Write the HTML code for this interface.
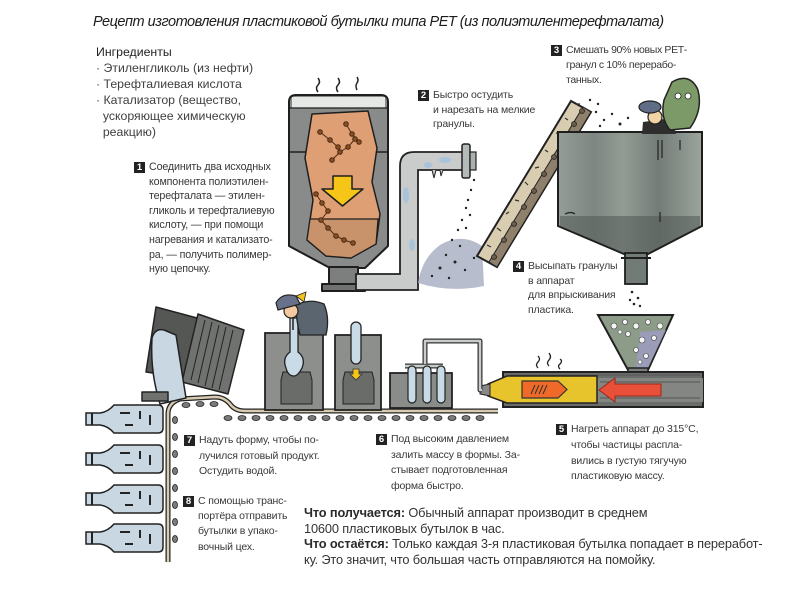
<!DOCTYPE html>
<html><head><meta charset="utf-8">
<style>
html,body{margin:0;padding:0;background:#fff;}
body{width:800px;height:600px;position:relative;overflow:hidden;font-family:"Liberation Sans","DejaVu Sans",sans-serif;color:#3a3a3a;}
.t{position:absolute;white-space:nowrap;}
.title{left:93px;top:13px;font-size:14.5px;font-style:italic;color:#1c1c1c;letter-spacing:-0.48px;line-height:18px;}
.ing{left:96px;top:44px;font-size:12.3px;line-height:16px;color:#404040;}
.ing b{font-weight:normal;color:#222;}
.st{font-size:10.5px;letter-spacing:-0.15px;color:#383838;}
.n{position:absolute;left:-15px;width:11px;height:11px;background:#222;color:#fff;font-weight:bold;font-size:9.5px;line-height:11px;text-align:center;letter-spacing:0;}
.bt{left:304px;top:505px;font-size:12.8px;line-height:15.6px;color:#333;letter-spacing:-0.15px;}
.bt b{font-weight:bold;color:#2a2a2a;}
</style></head>
<body>
<svg width="800" height="600" viewBox="0 0 800 600" style="position:absolute;left:0;top:0">
<defs>
<linearGradient id="tank" x1="0" x2="1" y1="0" y2="0">
<stop offset="0" stop-color="#959d98"/>
<stop offset="0.25" stop-color="#7e8681"/>
<stop offset="0.45" stop-color="#939b95"/>
<stop offset="0.7" stop-color="#747c77"/>
<stop offset="1" stop-color="#9ca49e"/>
</linearGradient>
</defs>

<!-- steam over reactor -->
<g fill="none" stroke="#222" stroke-width="1.5">
<path d="M318,92 q-3,-4 0,-7 q3,-3 0,-7"/>
<path d="M338,92 q-3,-4 0,-7 q3,-3 0,-7"/>
<path d="M357,90 q-2,-4 0,-7 q2,-3 0,-6"/>
</g>

<!-- reactor -->
<g stroke="#1e1e1e" stroke-width="2" stroke-linejoin="round">
<path d="M289,102 Q289,95 296,95 L381,95 Q388,95 388,102 L388,246 L365,268 L330,268 L289,246 Z" fill="#888b89"/>
<path d="M292,97 L385,97 L385,108 L292,108 Z" fill="#e6e8e6" stroke="none"/>
<path d="M289,108 L388,108" stroke-width="1.2"/>
<path d="M289,152 L311,152 M375,152 L388,152" stroke-width="1.5"/>
<path d="M312,114 L368,111 L377,148 L372,182 L380,214 L376,244 L351,258 L326,256 L307,240 L313,200 L305,158 Z" fill="#de9f75" stroke-width="1.5"/>
<path d="M310,219 L378,219 L376,244 L351,258 L326,256 L307,240 Z" fill="#c8926a" stroke-width="1.2"/>
<path d="M333,176 L352,176 L352,189 L363,189 L342.5,206 L322,189 L333,189 Z" fill="#f5c518" stroke-width="1.5"/>
<path d="M329,267 L358,267 L358,285 L329,285 Z" fill="#7c7f7d"/>
<path d="M322,284 L365,284 L365,291 L322,291 Z" fill="#6f7270"/>
</g>
<!-- molecules -->
<g stroke="#4a2a14" stroke-width="1" fill="#8b4f22">
<path d="M320,132 L330,140 L338,147 M346,124 L352,134 L359,142 M332,160 L340,152 L348,147 L355,139 M316,194 L322,203 L328,211 L321,220 L328,228 L336,236 L344,240 L353,243" fill="none"/>
<circle cx="320" cy="132" r="2.3"/><circle cx="330" cy="140" r="2.3"/><circle cx="338" cy="147" r="2.3"/>
<circle cx="346" cy="124" r="2.3"/><circle cx="352" cy="134" r="2.3"/><circle cx="359" cy="142" r="2.3"/>
<circle cx="332" cy="160" r="2.3"/><circle cx="340" cy="152" r="2.3"/><circle cx="348" cy="147" r="2.3"/><circle cx="355" cy="139" r="2.3"/>
<circle cx="316" cy="194" r="2.3"/><circle cx="322" cy="203" r="2.3"/><circle cx="328" cy="211" r="2.3"/><circle cx="321" cy="220" r="2.3"/><circle cx="328" cy="228" r="2.3"/><circle cx="336" cy="236" r="2.3"/><circle cx="344" cy="240" r="2.3"/><circle cx="353" cy="243" r="2.3"/>
</g>

<!-- pipe -->
<path d="M356,274 L400,274 L400,166 Q400,152 414,152 L463,152 L463,170 L418,170 L418,290 L356,290 Z" fill="#c9cccb" stroke="#222" stroke-width="1.8"/>
<g fill="#a9c3da"><ellipse cx="406" cy="195" rx="3" ry="8"/><ellipse cx="412" cy="245" rx="3" ry="6"/><ellipse cx="445" cy="160" rx="6" ry="3"/><ellipse cx="428" cy="165" rx="4" ry="3"/></g>
<path d="M432,170 l2,8 l2,-8 M440,170 l1,6 l2,-6" fill="#c9cccb" stroke="#222" stroke-width="1"/>
<rect x="462" y="144" width="8" height="34" rx="2" fill="#b5b9b8" stroke="#222" stroke-width="1.5"/>
<rect x="470" y="152" width="6" height="18" fill="#aab0b0" stroke="#222" stroke-width="1.2"/>

<!-- granule spray and pile -->
<path d="M418,283 Q422,258 440,245 Q462,232 482,246 L484,286 Q450,293 418,283 Z" fill="#aab1c3" opacity="0.85"/>
<g fill="#222">
<circle cx="474" cy="180" r="1.2"/><circle cx="471" cy="190" r="1.2"/><circle cx="468" cy="200" r="1.2"/><circle cx="466" cy="208" r="1.2"/><circle cx="470" cy="215" r="1.2"/><circle cx="462" cy="220" r="1.2"/><circle cx="458" cy="230" r="1.2"/><circle cx="466" cy="228" r="1.2"/><circle cx="452" cy="240" r="1.2"/><circle cx="460" cy="246" r="1.2"/><circle cx="446" cy="255" r="1.2"/><circle cx="440" cy="268" r="1.5"/><circle cx="455" cy="262" r="1.5"/><circle cx="465" cy="270" r="1.2"/><circle cx="432" cy="276" r="1.2"/><circle cx="449" cy="278" r="1.2"/><circle cx="474" cy="258" r="1.2"/>
</g>

<!-- slanted conveyor -->
<polygon points="477,256 571,101 591,112 497,267" fill="#d9cdb1" stroke="#222" stroke-width="2"/>
<polygon points="489,262 583,107 591,112 497,267" fill="#8e806b" stroke="#222" stroke-width="1"/>
<g fill="#6a5d4c" stroke="#222" stroke-width="0.8">
<circle cx="494" cy="257" r="2.5"/><circle cx="504" cy="240" r="2.5"/><circle cx="514" cy="224" r="2.5"/><circle cx="524" cy="207" r="2.5"/><circle cx="534" cy="191" r="2.5"/><circle cx="544" cy="174" r="2.5"/><circle cx="554" cy="157" r="2.5"/><circle cx="564" cy="141" r="2.5"/><circle cx="574" cy="124" r="2.5"/><circle cx="582" cy="111" r="2.5"/>
</g>
<g fill="none" stroke="#333" stroke-width="1.2">
<path d="M487,245 l4,2 M497,228 l4,3 M506,214 l3,-2 M515,200 l4,1 M525,182 l3,3 M535,168 l4,-1 M545,150 l3,2 M556,133 l4,1 M565,118 l3,2 M576,104 l4,0"/>
</g>
<g fill="#222"><circle cx="596" cy="112" r="1.2"/><circle cx="604" cy="120" r="1.2"/><circle cx="612" cy="114" r="1.2"/><circle cx="620" cy="124" r="1.5"/><circle cx="600" cy="126" r="1.2"/><circle cx="628" cy="118" r="1.2"/><circle cx="590" cy="100" r="1.2"/><circle cx="598" cy="104" r="1.2"/></g>

<!-- tank -->
<path d="M558,132 L702,132 L702,226 L648,254 L624,254 L558,226 Z" fill="url(#tank)" stroke="#1e1e1e" stroke-width="2"/>
<path d="M560,216 L700,216 L700,226 L648,253 L624,253 L560,226 Z" fill="#525a55" opacity="0.55"/>
<g stroke="#222" stroke-width="1.2" fill="none"><path d="M658,140 L658,160 M662,140 L662,158 M680,140 L680,150 M660,212 L660,222 M565,214 q6,-3 10,0"/></g>
<rect x="625" y="253" width="22" height="31" fill="#737b76" stroke="#1e1e1e" stroke-width="1.8"/>
<line x1="621" y1="258" x2="651" y2="258" stroke="#1e1e1e" stroke-width="2"/>
<g fill="#222"><circle cx="632" cy="292" r="1.3"/><circle cx="638" cy="298" r="1.3"/><circle cx="634" cy="304" r="1.3"/><circle cx="640" cy="306" r="1.2"/><circle cx="630" cy="300" r="1.2"/></g>

<!-- workers on tank -->
<path d="M643,122 L672,118 L676,134 L642,134 Z" fill="#2e2e2e"/>
<circle cx="655" cy="117" r="7" fill="#f2d3a4" stroke="#222" stroke-width="1.2"/>
<ellipse cx="650" cy="107" rx="11" ry="6" fill="#5f6e86" stroke="#222" stroke-width="1.2"/>
<path d="M672,82 Q690,72 698,90 Q703,110 690,128 L670,130 Q660,118 664,100 Z" fill="#7c9968" stroke="#222" stroke-width="1.5"/>
<circle cx="678" cy="96" r="3" fill="#fff" stroke="#222" stroke-width="0.8"/><circle cx="688" cy="96" r="3" fill="#fff" stroke="#222" stroke-width="0.8"/>

<!-- injection funnel -->
<path d="M598,315 L673,315 L648,370 L628,370 Z" fill="#8c9c89" stroke="#222" stroke-width="2"/>
<path d="M640,332 L666,330 L648,368 L636,368 Z" fill="#9e9cc4" opacity="0.8"/>
<g fill="#f4f4f4" stroke="#444" stroke-width="0.6">
<circle cx="614" cy="326" r="3"/><circle cx="625" cy="322" r="2.5"/><circle cx="636" cy="326" r="3"/><circle cx="648" cy="322" r="2.5"/><circle cx="660" cy="326" r="3"/><circle cx="628" cy="334" r="2.5"/><circle cx="642" cy="340" r="3"/><circle cx="654" cy="338" r="2.5"/><circle cx="636" cy="350" r="2.5"/><circle cx="646" cy="356" r="2.5"/><circle cx="640" cy="362" r="2"/><circle cx="620" cy="332" r="2"/>
</g>
<rect x="628" y="368" width="20" height="6" fill="#7b807c" stroke="#222" stroke-width="1.5"/>

<!-- heat squiggles -->
<g fill="none" stroke="#222" stroke-width="1.3">
<path d="M538,368 q-3,-3 0,-6 q3,-3 0,-6"/><path d="M549,366 q-3,-3 0,-6 q3,-3 0,-7"/><path d="M560,369 q-3,-3 0,-5 q3,-3 0,-5"/>
</g>

<!-- barrel -->
<rect x="503" y="372" width="200" height="35" fill="#6b6d6b" stroke="#222" stroke-width="2"/>
<rect x="597" y="378" width="106" height="24" fill="#848684"/>
<g stroke="#555" stroke-width="1"><line x1="600" y1="382" x2="700" y2="382"/><line x1="600" y1="398" x2="700" y2="398"/><line x1="510" y1="375" x2="700" y2="375"/></g>
<path d="M488,384 L507,376 L597,376 L597,403 L507,403 L488,396 Z" fill="#e8c42c" stroke="#222" stroke-width="1.5"/>
<path d="M480,386 L490,384 L490,396 L480,394 Z" fill="#888" stroke="#222" stroke-width="1"/>
<path d="M522,381 L558,381 L567,389.5 L558,398 L522,398 Z" fill="#ef6a28" stroke="#333" stroke-width="1.2"/>
<g stroke="#333" stroke-width="1"><line x1="531" y1="394" x2="535" y2="385"/><line x1="535" y1="394" x2="539" y2="385"/><line x1="539" y1="394" x2="543" y2="385"/><line x1="543" y1="394" x2="547" y2="385"/></g>
<path d="M615,384 L661,384 L661,396 L615,396 L615,402 L599,390 L615,378 Z" fill="#e8503a" stroke="#9a2a1a" stroke-width="1"/>

<!-- thin pipe to moulds -->
<path d="M482,390 L480,390 L480,341 L425,341 L425,364 M405,366 L443,366 M412,366 L412,372 M427,366 L427,372 M441,366 L441,372" fill="none" stroke="#333" stroke-width="5" stroke-linejoin="round"/>
<path d="M482,390 L480,390 L480,341 L425,341 L425,364 M405,366 L443,366" fill="none" stroke="#c9cccb" stroke-width="2.5" stroke-linejoin="round"/>
<rect x="390" y="373" width="62" height="35" fill="#8a8c8a" stroke="#222" stroke-width="1.8"/>
<g fill="#c8dbe6" stroke="#222" stroke-width="1.2">
<rect x="408" y="366" width="8" height="37" rx="4"/><rect x="423" y="366" width="8" height="37" rx="4"/><rect x="437" y="366" width="8" height="37" rx="4"/>
</g>

<!-- belt -->
<path d="M168,562 L168,414 Q168,403 180,399 L215,397 Q224,397 230,404 Q235,411 245,411 L498,411" fill="none" stroke="#222" stroke-width="5"/>
<path d="M168,562 L168,414 Q168,403 180,399 L215,397 Q224,397 230,404 Q235,411 245,411 L498,411" fill="none" stroke="#d8ccb0" stroke-width="2.5"/>
<g fill="#7a7c7a" stroke="#222" stroke-width="0.8">
<ellipse cx="228" cy="418" rx="4" ry="2.5"/><ellipse cx="242" cy="418" rx="4" ry="2.5"/><ellipse cx="256" cy="418" rx="4" ry="2.5"/><ellipse cx="270" cy="418" rx="4" ry="2.5"/><ellipse cx="284" cy="418" rx="4" ry="2.5"/><ellipse cx="298" cy="418" rx="4" ry="2.5"/><ellipse cx="312" cy="418" rx="4" ry="2.5"/><ellipse cx="326" cy="418" rx="4" ry="2.5"/><ellipse cx="340" cy="418" rx="4" ry="2.5"/><ellipse cx="354" cy="418" rx="4" ry="2.5"/><ellipse cx="368" cy="418" rx="4" ry="2.5"/><ellipse cx="382" cy="418" rx="4" ry="2.5"/><ellipse cx="396" cy="418" rx="4" ry="2.5"/><ellipse cx="410" cy="418" rx="4" ry="2.5"/><ellipse cx="424" cy="418" rx="4" ry="2.5"/><ellipse cx="438" cy="418" rx="4" ry="2.5"/><ellipse cx="452" cy="418" rx="4" ry="2.5"/><ellipse cx="466" cy="418" rx="4" ry="2.5"/><ellipse cx="480" cy="418" rx="4" ry="2.5"/>
<ellipse cx="186" cy="405" rx="4" ry="2.5"/><ellipse cx="200" cy="404" rx="4" ry="2.5"/><ellipse cx="214" cy="404" rx="4" ry="2.5"/>
<ellipse cx="175" cy="420" rx="2.5" ry="3.5"/><ellipse cx="175" cy="437" rx="2.5" ry="3.5"/><ellipse cx="175" cy="454" rx="2.5" ry="3.5"/><ellipse cx="175" cy="471" rx="2.5" ry="3.5"/><ellipse cx="175" cy="488" rx="2.5" ry="3.5"/><ellipse cx="175" cy="505" rx="2.5" ry="3.5"/><ellipse cx="175" cy="522" rx="2.5" ry="3.5"/><ellipse cx="175" cy="539" rx="2.5" ry="3.5"/>
</g>

<!-- blow moulds -->
<rect x="265" y="333" width="58" height="77" fill="#8d8f8d" stroke="#222" stroke-width="1.8"/>
<path d="M283,372 L310,372 L312,380 L312,404 L281,404 L281,380 Z" fill="#6a6c6a" stroke="#222" stroke-width="1"/>
<path d="M290,318 L298,318 L298,352 Q306,358 302,368 Q298,376 294,376 Q288,376 286,368 Q282,358 290,352 Z" fill="#c8dbe6" stroke="#222" stroke-width="1.3"/>
<rect x="335" y="335" width="46" height="75" fill="#8d8f8d" stroke="#222" stroke-width="1.8"/>
<path d="M345,372 L372,372 L374,380 L374,404 L343,404 L343,380 Z" fill="#6a6c6a" stroke="#222" stroke-width="1"/>
<rect x="351" y="322" width="10" height="42" rx="5" fill="#c8dbe6" stroke="#222" stroke-width="1.3"/>
<path d="M353,369 L359,369 L359,374 L362,374 L356,380 L350,374 L353,374 Z" fill="#f5c518" stroke="#333" stroke-width="0.8"/>
<!-- worker at mould -->
<path d="M296,305 Q310,298 324,304 Q330,318 326,335 L300,335 Q296,320 296,305 Z" fill="#5b6570" stroke="#222" stroke-width="1.3"/>
<circle cx="291" cy="311" r="7" fill="#f2c9a0" stroke="#222" stroke-width="1.2"/>
<path d="M276,303 Q282,292 296,296 L300,304 L278,310 Z" fill="#67718a" stroke="#222" stroke-width="1.2"/>
<path d="M296,296 L306,292 L304,302 Z" fill="#f2c21e" stroke="#222" stroke-width="0.8"/>
<line x1="293" y1="318" x2="293" y2="330" stroke="#222" stroke-width="1.5"/>

<!-- machine at left -->
<g stroke="#222" stroke-width="1.5" stroke-linejoin="round">
<polygon points="156,307 197,318 188,378 146,372" fill="#555755"/>
<polygon points="198,314 244,330 228,394 182,382" fill="#707270"/>
<path d="M205,320 L191,380 M212,322 L198,383 M219,325 L205,386 M226,327 L212,388 M233,330 L219,390" fill="none" stroke-width="1"/>
<path d="M152,338 Q155,328 164,330 L176,335 L186,398 L160,404 Q150,372 152,338 Z" fill="#c8d7e2"/>
<rect x="142" y="392" width="26" height="9" fill="#6f716f"/>
</g>

<!-- bottles -->
<g stroke="#222" stroke-width="1.5" fill="#c9d7e2">
<g transform="translate(0,419)"><path d="M86,-6 L100,-6 Q108,-7 114,-14 L158,-14 Q163,-14 163,-9 L163,9 Q163,14 158,14 L114,14 Q108,7 100,6 L86,6 Z"/><path d="M120,-6 l10,0 M140,-8 l0,8 M150,-4 l0,10 M125,6 l8,0 M92,-6 l0,12" fill="none" stroke-width="2"/></g>
<g transform="translate(0,459)"><path d="M86,-6 L100,-6 Q108,-7 114,-14 L158,-14 Q163,-14 163,-9 L163,9 Q163,14 158,14 L114,14 Q108,7 100,6 L86,6 Z"/><path d="M120,-6 l10,0 M140,-8 l0,8 M150,-4 l0,10 M125,6 l8,0 M92,-6 l0,12" fill="none" stroke-width="2"/></g>
<g transform="translate(0,499)"><path d="M86,-6 L100,-6 Q108,-7 114,-14 L158,-14 Q163,-14 163,-9 L163,9 Q163,14 158,14 L114,14 Q108,7 100,6 L86,6 Z"/><path d="M120,-6 l10,0 M140,-8 l0,8 M150,-4 l0,10 M125,6 l8,0 M92,-6 l0,12" fill="none" stroke-width="2"/></g>
<g transform="translate(0,538)"><path d="M86,-6 L100,-6 Q108,-7 114,-14 L158,-14 Q163,-14 163,-9 L163,9 Q163,14 158,14 L114,14 Q108,7 100,6 L86,6 Z"/><path d="M120,-6 l10,0 M140,-8 l0,8 M150,-4 l0,10 M125,6 l8,0 M92,-6 l0,12" fill="none" stroke-width="2"/></g>
</g>
</svg>

<div class="t title">Рецепт изготовления пластиковой бутылки типа PET (из полиэтилентерефталата)</div>

<div class="t ing"><b>Ингредиенты</b><br>· Этиленгликоль (из нефти)<br>· Терефталиевая кислота<br>· Катализатор (вещество,<br>&nbsp;&nbsp;ускоряющее химическую<br>&nbsp;&nbsp;реакцию)</div>

<div class="t st" style="left:149px;top:160px;line-height:14.6px;font-size:10.7px;"><span class="n" style="top:1.8px;">1</span>Соединить два исходных<br>компонента полиэтилен-<br>терефталата — этилен-<br>гликоль и терефталиевую<br>кислоту, — при помощи<br>нагревания и катализато-<br>ра, — получить полимер-<br>ную цепочку.</div>

<div class="t st" style="left:433px;top:88px;line-height:14.7px;"><span class="n" style="top:1.8px;">2</span>Быстро остудить<br>и нарезать на мелкие<br>гранулы.</div>

<div class="t st" style="left:566px;top:43px;line-height:15px;letter-spacing:-0.35px;"><span class="n" style="top:2px;">3</span>Смешать 90% новых РЕТ-<br>гранул с 10% перерабо-<br>танных.</div>

<div class="t st" style="left:528px;top:259px;line-height:14.7px;"><span class="n" style="top:1.8px;">4</span>Высыпать гранулы<br>в аппарат<br>для впрыскивания<br>пластика.</div>

<div class="t st" style="left:571px;top:422px;line-height:15.8px;"><span class="n" style="top:2.4px;">5</span>Нагреть аппарат до 315°С,<br>чтобы частицы распла-<br>вились в густую тягучую<br>пластиковую массу.</div>

<div class="t st" style="left:391px;top:432px;line-height:15.6px;"><span class="n" style="top:2.3px;">6</span>Под высоким давлением<br>залить массу в формы. За-<br>стывает подготовленная<br>форма быстро.</div>

<div class="t st" style="left:199px;top:433px;line-height:15.5px;"><span class="n" style="top:2.2px;">7</span>Надуть форму, чтобы по-<br>лучился готовый продукт.<br>Остудить водой.</div>

<div class="t st" style="left:198px;top:494px;line-height:15.2px;"><span class="n" style="top:2px;">8</span>С помощью транс-<br>портёра отправить<br>бутылки в упако-<br>вочный цех.</div>

<div class="t bt"><b>Что получается:</b> Обычный аппарат производит в среднем<br>10600 пластиковых бутылок в час.<br><b>Что остаётся:</b> Только каждая 3-я пластиковая бутылка попадает в переработ-<br>ку. Это значит, что большая часть отправляются на помойку.</div>

</body></html>
